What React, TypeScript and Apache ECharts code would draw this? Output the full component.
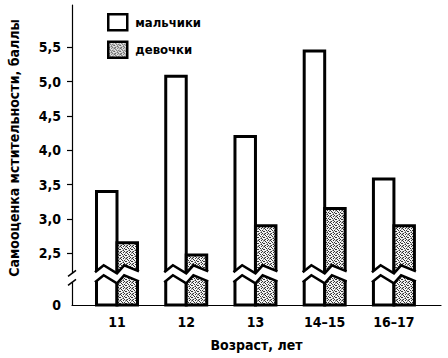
import React, { useEffect, useRef } from "react";
import * as echarts from "echarts";

// ---- data ----
const CATEGORIES = ["11", "12", "13", "14–15", "16–17"];
const BOYS = [3.4, 5.08, 4.2, 5.45, 3.58];
const GIRLS = [2.65, 2.47, 2.9, 3.15, 2.9];
const Y_TICKS = [2.5, 3.0, 3.5, 4.0, 4.5, 5.0, 5.5];
const SERIES_NAMES = ["мальчики", "девочки"];
const Y_TITLE = "Самооценка мстительности, баллы";
const X_TITLE = "Возраст, лет";

// ---- axis layout (broken axis) ----
const ZERO_POS = 1.742; // where 0 sits on the broken axis
const BREAK_POS = 2.19; // centre of the break
const Y_MAX = 6.12;
const X_MIN = -0.65;
const X_MAX = 4.68;
const BAR_W = 0.296;

const FONT = "'Liberation Sans Narrow', 'DejaVu Sans Condensed', 'Arial Narrow', sans-serif";
const WEIGHT = "bold";

function makePattern() {
  const c = document.createElement("canvas");
  c.width = 6;
  c.height = 6;
  const ctx = c.getContext("2d")!;
  ctx.fillStyle = "#f4f4f4";
  ctx.fillRect(0, 0, 6, 6);
  const dark: [number, number][] = [
    [0, 0], [3, 0], [1, 1], [4, 2], [2, 2], [0, 3], [5, 3], [3, 4], [1, 5], [4, 5],
  ];
  ctx.fillStyle = "#333";
  dark.forEach(([x, y]) => ctx.fillRect(x, y, 1, 1));
  const mid: [number, number][] = [[5, 0], [2, 4], [0, 5], [5, 1], [3, 3]];
  ctx.fillStyle = "#999";
  mid.forEach(([x, y]) => ctx.fillRect(x, y, 1, 1));
  return c;
}

export default function App() {
  const ref = useRef<HTMLDivElement>(null);

  useEffect(() => {
    if (!ref.current) return;
    const chart = echarts.init(ref.current, undefined, { renderer: "svg" });
    const patternCanvas = makePattern();
    const pattern: any = { image: patternCanvas, repeat: "repeat" };

    const data = CATEGORIES.map((_, i) => [i, BOYS[i], GIRLS[i]]);

    const renderItem = (params: any, api: any) => {
      const i = api.value(0);
      const boys = api.value(1);
      const girls = api.value(2);
      const base = api.coord([i, ZERO_POS]);
      const cx = base[0];
      const yBase = base[1];
      const w = api.size([BAR_W, 0])[0];
      const yc = api.coord([i, BREAK_POS])[1];
      const children: any[] = [];

      const bar = (x0: number, v: number, fill: any) => {
        const yTop = api.coord([i, v])[1];
        children.push({
          type: "rect",
          shape: { x: x0, y: yTop, width: w, height: yBase - yTop },
          style: { fill, stroke: "#000", lineWidth: 3 },
        });
      };
      bar(cx - w, boys, "#fff");
      bar(cx, girls, pattern);

      const upper = (ext: number) => [
        [cx - w - ext, yc - 2],
        [cx - w + 0.35 * w, yc - 9],
        [cx, yc - 1],
        [cx + 0.35 * w, yc - 9],
        [cx + w + ext, yc - 3],
      ];
      const shift = (pts: number[][], d: number) => pts.map((p) => [p[0], p[1] + d]);
      const up = upper(2.5);
      const lo = shift(up, 10);
      children.push({
        type: "polygon",
        shape: { points: up.concat(lo.slice().reverse()) },
        style: { fill: "#fff", stroke: null },
      });
      children.push({
        type: "polyline",
        shape: { points: upper(1.5) },
        style: { fill: null, stroke: "#000", lineWidth: 2.5 },
      });
      children.push({
        type: "polyline",
        shape: { points: shift(upper(1.5), 10) },
        style: { fill: null, stroke: "#000", lineWidth: 2.5 },
      });

      if (params.dataIndex === 0) {
        const ax = params.coordSys.x;
        children.push({
          type: "rect",
          shape: { x: ax - 2, y: yc - 1, width: 4, height: 9 },
          style: { fill: "#fff" },
        });
        [yc - 1, yc + 8].forEach((yy) =>
          children.push({
            type: "line",
            shape: { x1: ax - 4, y1: yy + 3, x2: ax + 4, y2: yy - 3 },
            style: { stroke: "#000", lineWidth: 1.5 },
          })
        );
      }
      return { type: "group", children };
    };

    chart.setOption({
      animation: false,
      backgroundColor: "#fff",
      textStyle: { fontFamily: FONT, color: "#000" },
      grid: { left: 72, right: 7, top: 5, bottom: 53, containLabel: false },
      legend: {
        orient: "vertical",
        left: 102,
        top: 8,
        itemWidth: 19,
        itemHeight: 16,
        itemGap: 9,
        selectedMode: false,
        textStyle: { fontFamily: FONT, fontSize: 13, fontWeight: WEIGHT, color: "#000", padding: [0, 0, 0, 3] },
        data: [
          { name: SERIES_NAMES[0], icon: "rect", itemStyle: { color: "#fff", borderColor: "#000", borderWidth: 2.5 } },
          { name: SERIES_NAMES[1], icon: "rect", itemStyle: { color: pattern, borderColor: "#000", borderWidth: 2.5 } },
        ],
      },
      graphic: [
        {
          type: "text",
          x: 14,
          y: 148,
          rotation: Math.PI / 2,
          style: {
            text: Y_TITLE,
            fontFamily: FONT,
            fontSize: 14,
            fontWeight: WEIGHT,
            fill: "#000",
            align: "center",
            verticalAlign: "middle",
          },
        },
      ],
      xAxis: {
        type: "value",
        min: X_MIN,
        max: X_MAX,
        splitLine: { show: false },
        axisLine: { show: true, onZero: false, lineStyle: { color: "#000", width: 1.2 } },
        axisTick: { show: false },
        axisLabel: {
          customValues: CATEGORIES.map((_, i) => i),
          formatter: (v: number) => CATEGORIES[Math.round(v)] ?? "",
          fontFamily: FONT,
          fontSize: 14,
          fontWeight: WEIGHT,
          color: "#000",
          margin: 10,
        },
        name: X_TITLE,
        nameLocation: "middle",
        nameGap: 33,
        nameTextStyle: { fontFamily: FONT, fontSize: 14, fontWeight: WEIGHT, color: "#000" },
      },
      yAxis: {
        type: "value",
        min: ZERO_POS,
        max: Y_MAX,
        splitLine: { show: false },
        axisLine: { show: true, onZero: false, lineStyle: { color: "#000", width: 1.2 } },
        axisTick: {
          show: true,
          customValues: Y_TICKS,
          length: 5,
          lineStyle: { color: "#000", width: 1.2 },
        },
        axisLabel: {
          customValues: [ZERO_POS, ...Y_TICKS],
          formatter: (v: number) => (v < 2 ? "0" : v.toFixed(1).replace(".", ",")),
          fontFamily: FONT,
          fontSize: 14,
          fontWeight: WEIGHT,
          color: "#000",
          margin: 11,
        },
      },
      series: [
        {
          name: SERIES_NAMES[0],
          type: "custom",
          renderItem,
          data,
          encode: { x: 0, y: [1, 2] },
          itemStyle: { color: "#fff", borderColor: "#000" },
          z: 3,
        },
        {
          name: SERIES_NAMES[1],
          type: "custom",
          renderItem: () => null,
          data: [],
          itemStyle: { color: pattern, borderColor: "#000" },
        },
      ],
    });
    return () => chart.dispose();
  }, []);

  return (
    <div
      ref={ref}
      style={{ position: "absolute", left: 0, top: 0, width: 448, height: 358, overflow: "hidden" }}
    />
  );
}
